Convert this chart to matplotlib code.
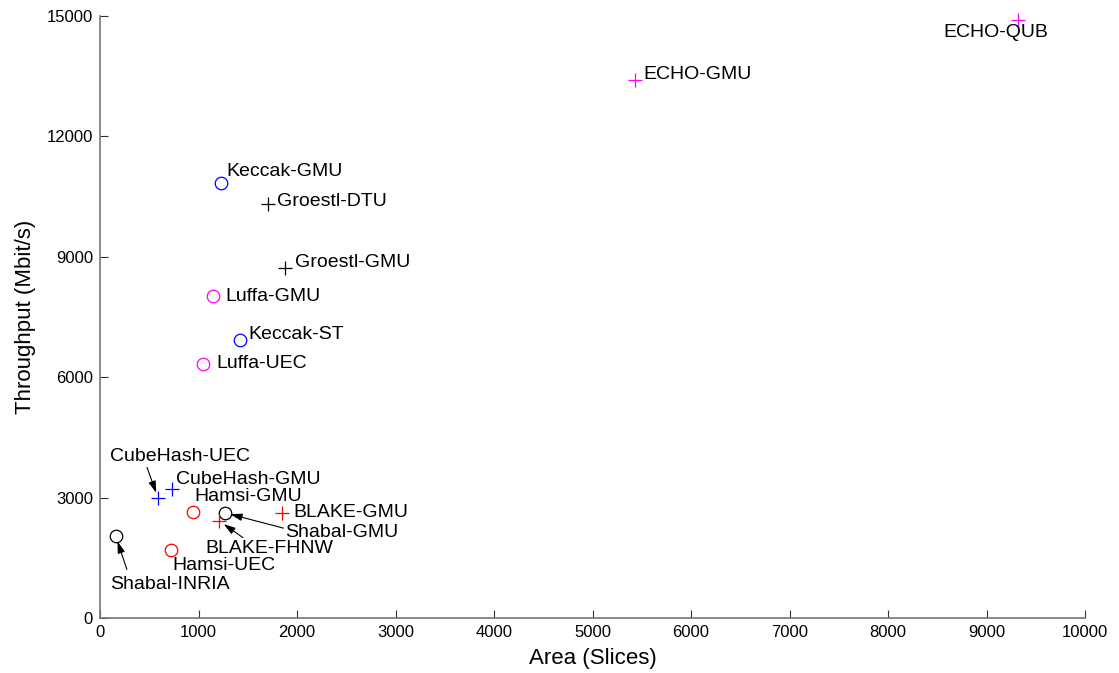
import matplotlib
matplotlib.use("Agg")
import matplotlib.pyplot as plt

plt.rcParams['font.family'] = ['Liberation Sans', 'DejaVu Sans']

# Area (slices) and throughput (Mbit/s) of each SHA-3 candidate implementation
names = ["ECHO-QUB", "ECHO-GMU", "Keccak-GMU", "Groestl-DTU", "Groestl-GMU",
         "Luffa-GMU", "Keccak-ST", "Luffa-UEC", "CubeHash-UEC", "CubeHash-GMU",
         "Hamsi-GMU", "Shabal-GMU", "BLAKE-GMU", "BLAKE-FHNW", "Shabal-INRIA",
         "Hamsi-UEC"]
area = [9320, 5430, 1230, 1710, 1880, 1150, 1420, 1050, 590, 730,
        940, 1270, 1850, 1210, 160, 720]
throughput = [14900, 13400, 10840, 10310, 8720, 8020, 6920, 6330, 2990, 3210,
              2640, 2620, 2620, 2420, 2040, 1690]
markers = ["+", "+", "o", "+", "+", "o", "o", "o", "+", "+",
           "o", "o", "+", "+", "o", "o"]
colors = ["#ff00ff", "#ff00ff", "#0000ff", "#000000", "#000000",
          "#ff00ff", "#0000ff", "#ff00ff", "#0000ff", "#0000ff",
          "#ff0000", "#000000", "#ff0000", "#ff0000", "#000000",
          "#ff0000"]

# text offset (points) from each point
label_offsets = {
    "ECHO-QUB": (-54, -9),
    "ECHO-GMU": (6, 4),
    "Keccak-GMU": (4, 8),
    "Groestl-DTU": (6, 2),
    "Groestl-GMU": (7, 4),
    "Luffa-GMU": (9, 0),
    "Keccak-ST": (6, 4),
    "Luffa-UEC": (9, 0),
    "CubeHash-UEC": (-35, 30),
    "CubeHash-GMU": (3, 7),
    "Hamsi-GMU": (1, 11),
    "Shabal-GMU": (43, -14),
    "BLAKE-GMU": (8, 0),
    "BLAKE-FHNW": (-10, -20),
    "Shabal-INRIA": (-4, -35),
    "Hamsi-UEC": (1, -11),
}
# arrow tail offset (points) for labels that point at their mark
arrow_tails = {
    "CubeHash-UEC": (-8, 22),
    "Shabal-GMU": (42, -11),
    "BLAKE-FHNW": (17, -12),
    "Shabal-INRIA": (8, -24),
}

fig = plt.figure(figsize=(11.19, 6.73), dpi=100)
ax = fig.add_axes([100 / 1119, 55 / 673, 985 / 1119, 602 / 673])

for n, x, y, m, c in zip(names, area, throughput, markers, colors):
    if m == "o":
        ax.plot(x, y, m, markersize=9, markerfacecolor="none",
                markeredgecolor=c, markeredgewidth=0.9, clip_on=False)
    else:
        ax.plot(x, y, m, markersize=10, color=c, markeredgewidth=0.9,
                clip_on=False)

for n, x, y in zip(names, area, throughput):
    ax.annotate(n, (x, y), xytext=label_offsets[n], textcoords="offset points",
                ha="left", va="center", fontsize=14, color="black")
    if n in arrow_tails:
        ax.annotate("", (x, y), xytext=arrow_tails[n],
                    textcoords="offset points",
                    arrowprops=dict(arrowstyle="-|>,head_length=0.7,head_width=0.22",
                                    color="black", lw=0.8, shrinkA=0,
                                    shrinkB=4, mutation_scale=10))

ax.set_xlim(0, 10000)
ax.set_ylim(0, 15000)
ax.set_xticks(range(0, 10001, 1000))
ax.set_yticks(range(0, 15001, 3000))
ax.tick_params(direction="in", length=6, width=0.8, labelsize=12,
               color="#333333", pad=5)
ax.spines["top"].set_visible(False)
ax.spines["right"].set_visible(False)
for s in ("left", "bottom"):
    ax.spines[s].set_color("#777777")
    ax.spines[s].set_linewidth(1.2)

ax.set_xlabel("Area (Slices)", fontsize=16, labelpad=6)
ax.set_ylabel("Throughput (Mbit/s)", fontsize=16, labelpad=8)

fig.savefig("out.png", dpi=100)
